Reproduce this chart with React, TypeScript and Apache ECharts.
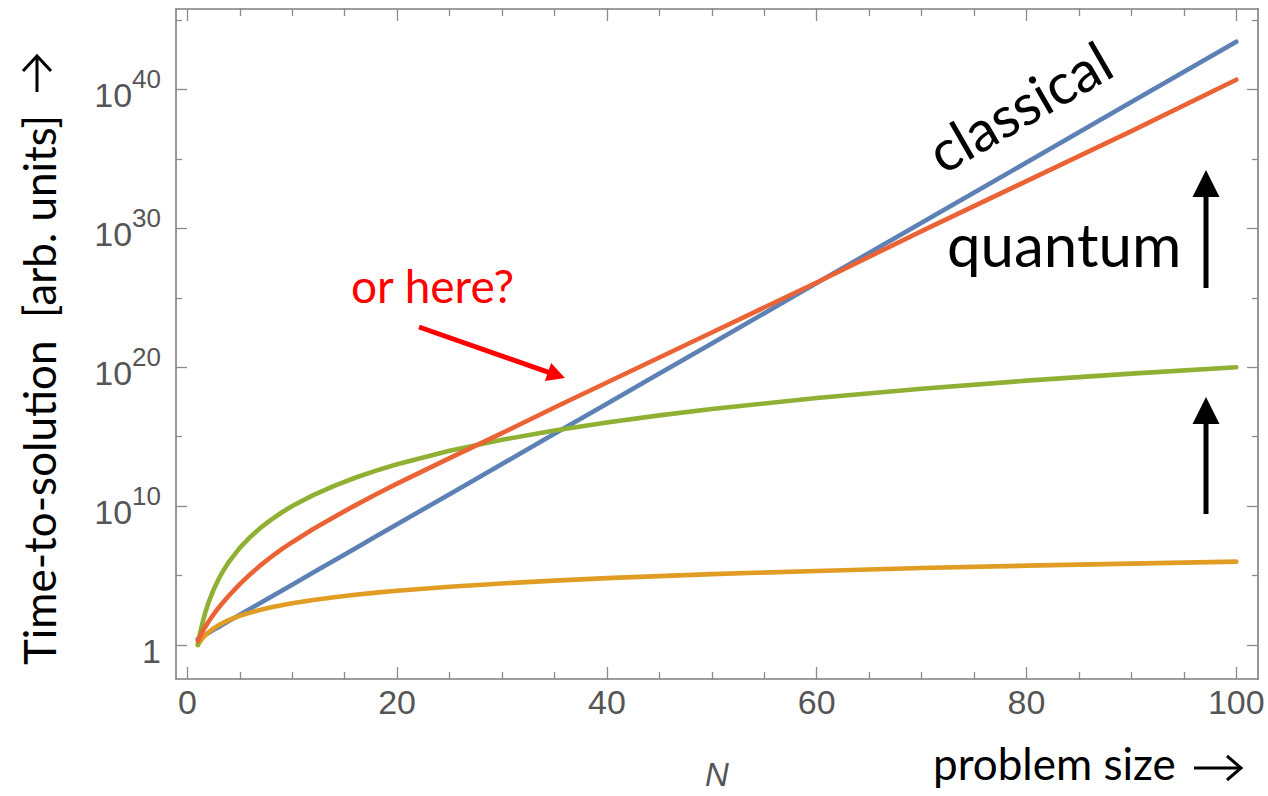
import React, { useEffect, useRef } from "react";
import * as echarts from "echarts";

// Problem size N (x values where the curves were read)
const N_VALUES = [1, 1.25, 1.5, 1.75, 2, 2.5, 3, 3.5, 4, 5, 6, 7, 8, 9, 10, 12, 14, 16, 18, 20, 25, 30, 35, 40, 45, 50, 60, 70, 80, 90, 100];
// log10 of time-to-solution
const CLASSICAL_BLUE = [0.43, 0.54, 0.65, 0.76, 0.87, 1.09, 1.3, 1.52, 1.74, 2.17, 2.61, 3.04, 3.47, 3.91, 4.34, 5.21, 6.08, 6.95, 7.82, 8.69, 10.86, 13.03, 15.2, 17.37, 19.54, 21.71, 26.06, 30.4, 34.74, 39.09, 43.43];
const QUANTUM_ORANGE = [0, 0.29, 0.53, 0.73, 0.9, 1.19, 1.43, 1.63, 1.81, 2.1, 2.33, 2.54, 2.71, 2.86, 3.0, 3.24, 3.44, 3.61, 3.77, 3.9, 4.19, 4.43, 4.63, 4.81, 4.96, 5.1, 5.33, 5.54, 5.71, 5.86, 6.0];
const QUANTUM_GREEN = [0, 0.97, 1.76, 2.43, 3.01, 3.98, 4.77, 5.44, 6.02, 6.99, 7.78, 8.45, 9.03, 9.54, 10.0, 10.79, 11.46, 12.04, 12.55, 13.01, 13.98, 14.77, 15.44, 16.02, 16.53, 16.99, 17.78, 18.45, 19.03, 19.54, 20.0];
const QUANTUM_RED = [0.3, 0.7, 1.05, 1.35, 1.65, 2.2, 2.7, 3.15, 3.58, 4.38, 5.1, 5.75, 6.35, 6.9, 7.4, 8.35, 9.22, 10.05, 10.85, 11.62, 13.45, 15.25, 17.1, 18.9, 20.7, 22.5, 26.1, 29.8, 33.4, 37.0, 40.7];

const X_MAJOR = [0, 20, 40, 60, 80, 100];
const X_MINOR = [5, 10, 15, 25, 30, 35, 45, 50, 55, 65, 70, 75, 85, 90, 95];
const Y_MAJOR = [0, 10, 20, 30, 40];
const Y_MINOR = [5, 15, 25, 35, 45];

const X_MIN = -1.08;
const X_MAX = 102.07;
const Y_MIN = -2.45;
const Y_MAX = 45.79;

const FRAME = "#7d7d7d";
const TICK = "#8a8a8a";
const LABEL = "#555555";
const TXT = "Lato, 'Noto Sans', sans-serif";
const NUM = "'Liberation Sans', Arial, sans-serif";

function pairs(ys: number[]) {
  return N_VALUES.map((n, i) => [n, ys[i]]);
}

function xAxisDef(position: string, ticks: number[], len: number, showLine: boolean, showLabel: boolean) {
  return {
    type: "value",
    position,
    min: X_MIN,
    max: X_MAX,
    axisLine: { show: showLine, onZero: false, lineStyle: { color: FRAME, width: 1.6 } },
    axisTick: { show: true, inside: true, length: len, customValues: ticks, lineStyle: { color: TICK, width: 1.3 } },
    axisLabel: showLabel
      ? { show: true, customValues: ticks, margin: 6, color: LABEL, fontSize: 34, fontFamily: NUM }
      : { show: false },
    splitLine: { show: false },
  };
}

function yAxisDef(position: string, ticks: number[], len: number, showLine: boolean, showLabel: boolean) {
  return {
    type: "value",
    position,
    min: Y_MIN,
    max: Y_MAX,
    axisLine: { show: showLine, onZero: false, lineStyle: { color: FRAME, width: 1.6 } },
    axisTick: { show: true, inside: true, length: len, customValues: ticks, lineStyle: { color: TICK, width: 1.3 } },
    axisLabel: showLabel
      ? {
          show: true,
          customValues: ticks,
          margin: 15,
          formatter: (v: number) => (v === 0 ? "{b|1}" : `{b|10}{s|${v}}`),
          rich: {
            b: { fontSize: 34, fontFamily: NUM, color: LABEL, lineHeight: 46, verticalAlign: "bottom" },
            s: { fontSize: 26, fontFamily: NUM, color: LABEL, lineHeight: 28, verticalAlign: "top" },
          },
        }
      : { show: false },
    splitLine: { show: false },
  };
}

function arrowHead(tip: number[], ux: number, uy: number, len: number, half: number) {
  const bx = tip[0] - ux * len;
  const by = tip[1] - uy * len;
  const nx = -uy;
  const ny = ux;
  return [tip, [bx + nx * half, by + ny * half], [bx - nx * half, by - ny * half]];
}

export default function App() {
  const ref = useRef<HTMLDivElement>(null);
  useEffect(() => {
    if (!ref.current) return;
    const chart = echarts.init(ref.current, undefined, { renderer: "svg" });
    const rdx = 565 - 419;
    const rdy = 378 - 327;
    const rl = Math.hypot(rdx, rdy);
    const rux = rdx / rl;
    const ruy = rdy / rl;
    chart.setOption({
      animation: false,
      backgroundColor: "#ffffff",
      grid: { left: 176, top: 9, width: 1082, height: 670, containLabel: false },
      xAxis: [
        xAxisDef("bottom", X_MAJOR, 12, true, true),
        xAxisDef("bottom", X_MINOR, 7, false, false),
        xAxisDef("top", X_MAJOR, 12, true, false),
        xAxisDef("top", X_MINOR, 7, false, false),
      ],
      yAxis: [
        yAxisDef("left", Y_MAJOR, 11, true, true),
        yAxisDef("left", Y_MINOR, 6, false, false),
        yAxisDef("right", Y_MAJOR, 11, true, false),
        yAxisDef("right", Y_MINOR, 6, false, false),
      ],
      series: [
        { name: "classical", color: "#5E81B5", data: pairs(CLASSICAL_BLUE) },
        { name: "N^3", color: "#E19C24", data: pairs(QUANTUM_ORANGE) },
        { name: "N^10", color: "#8FB032", data: pairs(QUANTUM_GREEN) },
        { name: "quantum", color: "#EB6235", data: pairs(QUANTUM_RED) },
      ].map((s) => ({
        type: "line",
        name: s.name,
        data: s.data,
        xAxisIndex: 0,
        yAxisIndex: 0,
        showSymbol: false,
        smooth: false,
        lineStyle: { color: s.color, width: 4.6, join: "round", cap: "round" },
        itemStyle: { color: s.color },
      })),
      graphic: [
        {
          type: "text",
          x: 39,
          y: 390,
          rotation: Math.PI / 2,
          style: { text: "Time-to-solution  [arb. units]", font: `44px ${TXT}`, fill: "#000", align: "center", verticalAlign: "middle" },
        },
        { type: "line", shape: { x1: 37, y1: 92, x2: 37, y2: 57 }, style: { stroke: "#000", lineWidth: 3 } },
        { type: "polyline", shape: { points: [[23, 71], [37, 56], [51, 71]] }, style: { stroke: "#000", lineWidth: 3, fill: null } },
        {
          type: "text",
          x: 717,
          y: 774,
          style: { text: "N", font: `italic 33px ${NUM}`, fill: LABEL, align: "center", verticalAlign: "middle" },
        },
        {
          type: "text",
          x: 933,
          y: 763,
          style: { text: "problem size", font: `44px ${TXT}`, fill: "#000", align: "left", verticalAlign: "middle" },
        },
        { type: "line", shape: { x1: 1194, y1: 768, x2: 1240, y2: 768 }, style: { stroke: "#000", lineWidth: 3 } },
        { type: "polyline", shape: { points: [[1227, 756], [1241, 768], [1227, 780]] }, style: { stroke: "#000", lineWidth: 3, fill: null } },
        {
          type: "text",
          x: 1019,
          y: 106,
          rotation: (30 * Math.PI) / 180,
          style: { text: "classical", font: `57px ${TXT}`, fill: "#000", align: "center", verticalAlign: "middle" },
        },
        {
          type: "text",
          x: 947,
          y: 244,
          style: { text: "quantum", font: `60px ${TXT}`, fill: "#000", align: "left", verticalAlign: "middle" },
        },
        {
          type: "text",
          x: 351,
          y: 285,
          style: { text: "or here?", font: `46px ${TXT}`, fill: "#ff0000", align: "left", verticalAlign: "middle" },
        },
        { type: "line", shape: { x1: 1206, y1: 192, x2: 1206, y2: 288 }, style: { stroke: "#000", lineWidth: 5 } },
        { type: "polygon", shape: { points: arrowHead([1206, 170], 0, -1, 27, 13.5) }, style: { fill: "#000" } },
        { type: "line", shape: { x1: 1206, y1: 419, x2: 1206, y2: 514 }, style: { stroke: "#000", lineWidth: 5 } },
        { type: "polygon", shape: { points: arrowHead([1206, 397], 0, -1, 27, 13.5) }, style: { fill: "#000" } },
        { type: "line", shape: { x1: 419, y1: 327, x2: 565 - rux * 15, y2: 378 - ruy * 15 }, style: { stroke: "#ff0000", lineWidth: 5 } },
        { type: "polygon", shape: { points: arrowHead([565, 378], rux, ruy, 18, 9.5) }, style: { fill: "#ff0000" } },
      ],
    });
    return () => chart.dispose();
  }, []);
  return <div ref={ref} style={{ position: "fixed", left: 0, top: 0, width: 1268, height: 796 }} />;
}
